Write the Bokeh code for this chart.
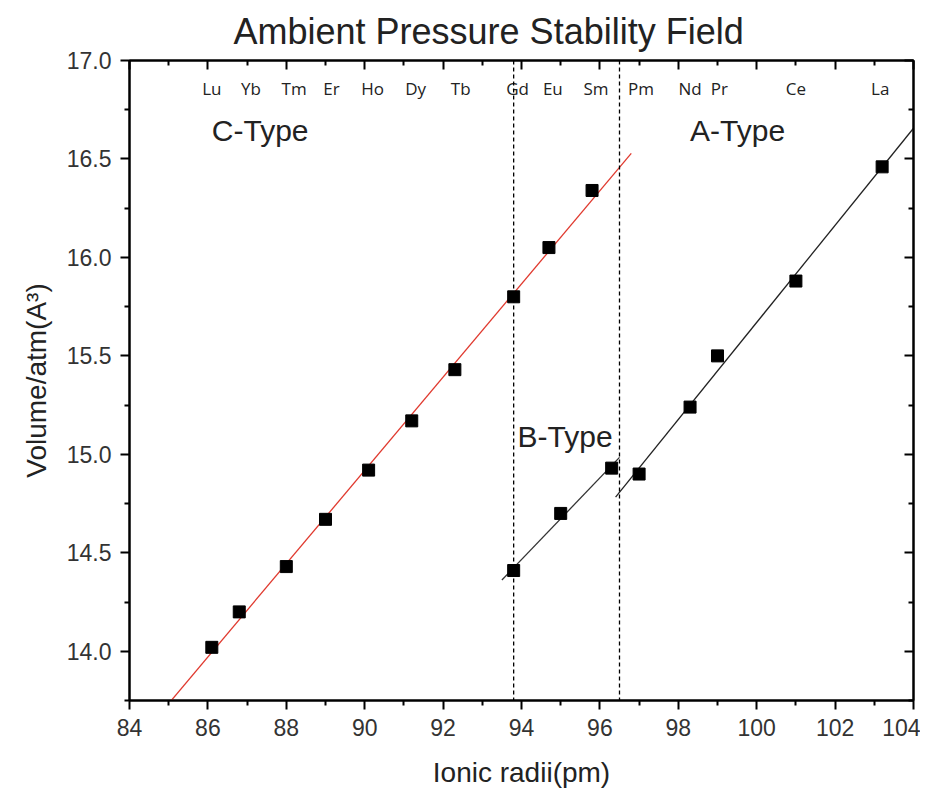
import numpy as np
from bokeh.plotting import figure
from bokeh.models import (LinearAxis, Span, Label, Range1d, FixedTicker,
                          PrintfTickFormatter, ColumnDataSource)
from bokeh.core.properties import value
from bokeh.embed import file_html
from bokeh.resources import INLINE

# ---------------- data ----------------
c_radius = [86.1, 86.8, 88.0, 89.0, 90.1, 91.2, 92.3, 93.8, 94.7, 95.8]
c_volume = [14.02, 14.20, 14.43, 14.67, 14.92, 15.17, 15.43, 15.80, 16.05, 16.34]

b_radius = [93.8, 95.0, 96.3]
b_volume = [14.41, 14.70, 14.93]

a_radius = [97.0, 98.3, 99.0, 101.0, 103.2]
a_volume = [14.90, 15.24, 15.50, 15.88, 16.46]

c_fit_range = [85.0, 96.8]
b_fit_range = [93.5, 96.5]
a_fit_range = [96.4, 104.0]

phase_boundaries = [93.8, 96.5]

elements = ["Lu", "Yb", "Tm", "Er", "Ho", "Dy", "Tb", "Gd", "Eu", "Sm",
            "Pm", "Nd", "Pr", "Ce", "La"]
element_x = [86.1, 87.1, 88.2, 89.15, 90.2, 91.3, 92.45, 93.9, 94.8, 95.9,
             97.05, 98.3, 99.05, 101.0, 103.15]
element_y = 16.86

phase_names = ["C-Type", "B-Type", "A-Type"]
phase_x = [86.1, 93.9, 98.3]
phase_y = [16.645, 15.09, 16.645]

x_major = list(range(84, 105, 2))
x_minor = list(range(85, 104, 2))
y_major = [14.0, 14.5, 15.0, 15.5, 16.0, 16.5, 17.0]
y_minor = [13.75, 14.25, 14.75, 15.25, 15.75, 16.25, 16.75]

FONT = "Liberation Sans"

# ---------------- figure ----------------
p = figure(width=920, height=790, x_range=Range1d(84, 104), y_range=Range1d(13.75, 17.0),
           output_backend="svg", toolbar_location=None,
           min_border_left=129, min_border_right=7, min_border_top=60, min_border_bottom=89,
           title="Ambient Pressure Stability Field")
p.background_fill_color = "white"
p.border_fill_color = "white"
p.outline_line_color = "black"
p.outline_line_width = 2
p.xgrid.visible = False
p.ygrid.visible = False

p.title.text_font = FONT
p.title.text_font_size = "36px"
p.title.text_font_style = "normal"
p.title.text_color = "#222222"
p.title.align = "left"
p.title.offset = 104
p.title.standoff = 17

def style_axis(ax, inward, labels, ticks):
    ax.axis_line_width = 2
    ax.axis_line_color = "black"
    ax.major_tick_line_width = 2
    ax.minor_tick_line_width = 2
    ax.major_tick_line_color = "black"
    ax.minor_tick_line_color = "black"
    if inward:
        ax.major_tick_in, ax.major_tick_out = 9, 0
        ax.minor_tick_in, ax.minor_tick_out = 5, 0
    else:
        ax.major_tick_in, ax.major_tick_out = 0, 9
        ax.minor_tick_in, ax.minor_tick_out = 0, 5
    ax.major_label_text_font = FONT
    ax.major_label_text_font_size = "23px"
    ax.major_label_text_color = "#333333"
    if labels:
        ax.axis_label_text_font = FONT
        ax.axis_label_text_font_size = "28px"
        ax.axis_label_text_font_style = "normal"
        ax.axis_label_text_color = "#222222"
    else:
        ax.major_label_overrides = {t: "" for t in ticks}
        ax.major_label_standoff = 0

xb = p.xaxis[0]
xb.ticker = FixedTicker(ticks=x_major, minor_ticks=x_minor)
xb.axis_label = "Ionic radii(pm)"
xb.major_label_standoff = 9
xb.axis_label_standoff = 18
style_axis(xb, False, True, x_major)

yl = p.yaxis[0]
yl.ticker = FixedTicker(ticks=y_major, minor_ticks=y_minor)
yl.formatter = PrintfTickFormatter(format="%.1f")
yl.axis_label = "Volume/atm(A³)"
yl.major_label_standoff = 9
yl.axis_label_standoff = 12
style_axis(yl, False, True, y_major)

xt = LinearAxis(ticker=FixedTicker(ticks=x_major, minor_ticks=x_minor))
style_axis(xt, True, False, x_major)
p.add_layout(xt, "above")

yr = LinearAxis(ticker=FixedTicker(ticks=y_major, minor_ticks=y_minor))
style_axis(yr, True, False, y_major)
p.add_layout(yr, "right")

# phase boundaries
for xb_ in phase_boundaries:
    p.add_layout(Span(location=xb_, dimension="height", line_color="black",
                      line_width=1.3, line_dash="4 3"))

# linear fits
def fit_line(xs, ys, rng, color):
    k, b = np.polyfit(xs, ys, 1)
    xx = np.array(rng)
    p.line(xx, k * xx + b, line_color=color, line_width=1.3)

fit_line(c_radius, c_volume, c_fit_range, "#e0392e")
fit_line(b_radius, b_volume, b_fit_range, "#333333")
fit_line(a_radius, a_volume, a_fit_range, "#222222")

# points
for xs, ys in [(c_radius, c_volume), (b_radius, b_volume), (a_radius, a_volume)]:
    p.scatter(xs, ys, marker="square", size=12, fill_color="black", line_color="black")

# element labels
src = ColumnDataSource(dict(x=element_x, y=[element_y] * len(elements), t=elements))
p.text(x="x", y="y", text="t", source=src, text_font=value("Open Sans"),
       text_font_size="17px", text_align="center", text_baseline="middle",
       text_color="#222222")

for name, x, y in zip(phase_names, phase_x, phase_y):
    p.add_layout(Label(x=x, y=y, text=name, text_font=FONT, text_font_size="30px",
                       text_baseline="middle", text_align="left", text_color="#222222"))

open("out.html", "w").write(file_html(p, INLINE))
